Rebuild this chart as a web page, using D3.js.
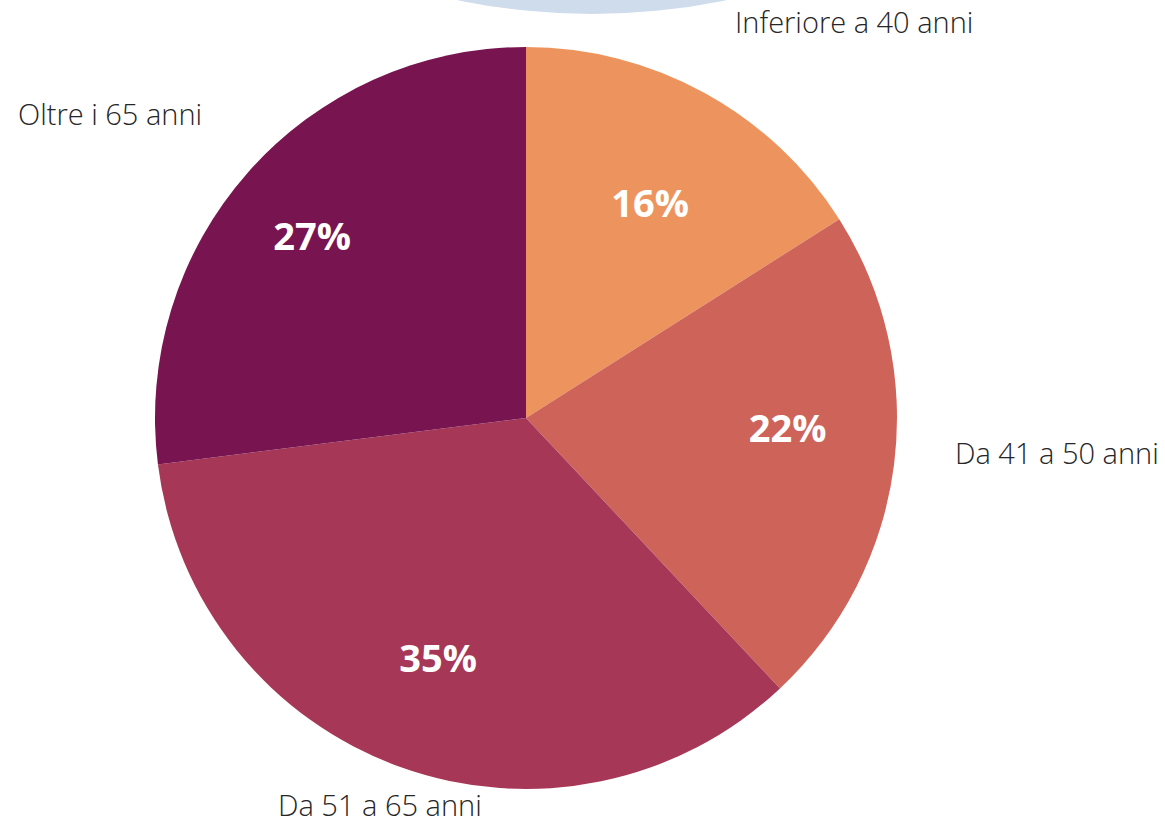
<!DOCTYPE html>
<html>
<head>
<meta charset="utf-8">
<script src="https://cdn.jsdelivr.net/npm/d3@7"></script>
<style>
  body { margin: 0; background: #fff; }
  svg { display: block; }
</style>
</head>
<body>
<script>
// data
const categories = ['Inferiore a 40 anni', 'Da 41 a 50 anni', 'Da 51 a 65 anni', 'Oltre i 65 anni'];
const values = [16, 22, 35, 27];
const colors = ['#ED945E', '#CE635A', '#A63757', '#781550'];

const width = 1165;
const height = 820;
const cx = 526, cy = 418, radius = 371;

// outside label anchors (text-anchor start, baseline), relative to pie centre
const labelOffsets = [[209, -385], [429, 46], [-248, 398], [-508, -293]];
// small nudges for the inside percentage labels
const pctNudges = [[-1, 13], [4, -22], [0, -4], [-19, -10]];

const svg = d3.select('body')
  .append('svg')
  .attr('width', width)
  .attr('height', height);

// light blue shape peeking in at the top
svg.append('circle')
  .attr('cx', 592)
  .attr('cy', -643)
  .attr('r', 657)
  .attr('fill', '#CFDCEC');

const pie = d3.pie().sort(null).value((d) => d);
const arcs = pie(values);

const arc = d3.arc().innerRadius(0).outerRadius(radius);
const labelArc = d3.arc().innerRadius(radius * 0.7).outerRadius(radius * 0.7);

const g = svg.append('g')
  .attr('transform', `translate(${cx}, ${cy})`);

g.selectAll('path')
  .data(arcs)
  .join('path')
  .attr('d', arc)
  .attr('fill', (d, i) => colors[i]);

g.selectAll('text.pct')
  .data(arcs)
  .join('text')
  .attr('class', 'pct')
  .attr('transform', (d, i) => {
    const [x, y] = labelArc.centroid(d);
    return `translate(${x + pctNudges[i][0]}, ${y + pctNudges[i][1]})`;
  })
  .attr('text-anchor', 'middle')
  .attr('dy', '0.36em')
  .attr('font-family', 'Open Sans, sans-serif')
  .attr('font-weight', 700)
  .attr('font-size', 38)
  .attr('fill', '#fff')
  .text((d) => d.data + '%');

g.selectAll('text.cat')
  .data(categories)
  .join('text')
  .attr('class', 'cat')
  .attr('x', (d, i) => labelOffsets[i][0])
  .attr('y', (d, i) => labelOffsets[i][1])
  .attr('font-family', 'Open Sans, sans-serif')
  .attr('font-weight', 300)
  .attr('font-size', 29)
  .attr('fill', '#262626')
  .text((d) => d);
</script>
</body>
</html>
